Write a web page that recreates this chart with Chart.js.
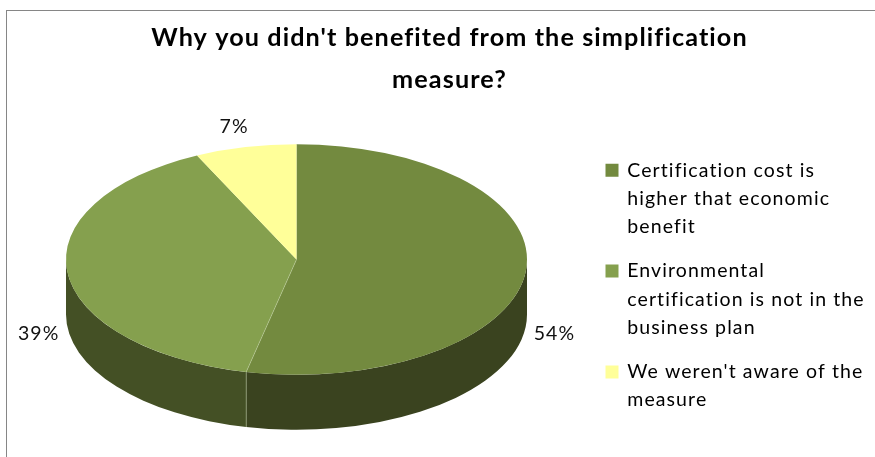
<!DOCTYPE html>
<html>
<head>
<meta charset="utf-8">
<script src="https://cdn.jsdelivr.net/npm/chart.js@4"></script>
<style>
  html, body { margin: 0; padding: 0; background: #fff; overflow: hidden; }
  #wrap { position: relative; width: 875px; height: 457px; }
  #frame { position: absolute; left: 6px; top: 10px; right: 0; bottom: 0; border-left: 1.5px solid #868686; border-top: 1.5px solid #868686; }
  canvas { position: absolute; left: 0; top: 0; }
</style>
</head>
<body>
<div id="wrap">
  <div id="frame"></div>
  <canvas id="pie" width="875" height="457"></canvas>
</div>
<script>
// values (slice angles), labels round to 54 / 39 / 7
var categories = [
  ["Certification cost is", "higher that economic", "benefit"],
  ["Environmental", "certification is not in the", "business plan"],
  ["We weren't aware of the", "measure"]
];
var shares = [53.5, 39.4, 7.1];
var titleLines = ["Why you didn't benefited from the simplification", "measure?"];

var topColors = ["#738a3f", "#85a04e", "#ffff99"];
var sideColors = ["#3a431f", "#445025", "#7f7f4c"];

var squash = 0.5;   // tilt of the pie
var depth = 55;     // height of the side wall
var fontName = "Lato, 'Open Sans', sans-serif";

var tiltPlugin = {
  id: "tilt",
  beforeDraw: function(chart) {
    chart.ctx.letterSpacing = "1.1px";
  },
  afterLayout: function(chart) {
    // pie sits on its own ellipse, legend goes to the right of it
    var a = chart.chartArea;
    a.left = 66; a.right = 527; a.top = 144; a.bottom = 375;
    a.width = 461; a.height = 231;
    chart.legend.left = 590.5;
    chart.legend.top = 144.5;
    chart.legend.bottom = 440;
  },
  beforeDatasetsDraw: function(chart) {
    var ctx = chart.ctx;
    var arcs = chart.getDatasetMeta(0).data;
    var cy = arcs[0].y;

    // side wall: only the part of each slice facing the viewer
    arcs.forEach(function(arc, i) {
      var a0 = Math.max(arc.startAngle, 0);
      var a1 = Math.min(arc.endAngle, Math.PI);
      if (a0 >= a1) return;
      var rx = arc.outerRadius, ry = rx * squash;
      ctx.fillStyle = sideColors[i];
      ctx.beginPath();
      ctx.ellipse(arc.x, cy, rx, ry, 0, a0, a1);
      ctx.ellipse(arc.x, cy + depth, rx, ry, 0, a1, a0, true);
      ctx.closePath();
      ctx.fill();
    });

    // top face is the library's own arcs, only squashed
    ctx.save();
    ctx.translate(0, cy);
    ctx.scale(1, squash);
    ctx.translate(0, -cy);
  },
  afterDatasetsDraw: function(chart) {
    var ctx = chart.ctx;
    ctx.restore();

    var arcs = chart.getDatasetMeta(0).data;
    var nudge = [[0, 0], [0, 0], [-5, -6]];
    var total = shares.reduce(function(a, b) { return a + b; }, 0);

    // thin light seams where two slices meet at the front
    ctx.save();
    ctx.strokeStyle = "rgba(200,215,170,0.45)";
    ctx.lineWidth = 1;
    var ex = arcs[0].x + arcs[0].outerRadius * Math.cos(arcs[0].endAngle);
    var ey = arcs[0].y + arcs[0].outerRadius * Math.sin(arcs[0].endAngle) * squash;
    ctx.beginPath();
    ctx.moveTo(arcs[0].x, arcs[0].y);
    ctx.lineTo(ex, ey);
    ctx.lineTo(ex, ey + depth);
    ctx.stroke();
    ctx.restore();

    // percent labels outside the rim
    ctx.save();
    ctx.font = "19.5px " + fontName;
    ctx.fillStyle = "#111";
    ctx.textAlign = "center";
    ctx.textBaseline = "middle";
    arcs.forEach(function(arc, i) {
      var mid = (arc.startAngle + arc.endAngle) / 2;
      var r = arc.outerRadius + 29;
      var lx = arc.x + r * Math.cos(mid) + nudge[i][0];
      var ly = arc.y + r * squash * Math.sin(mid) + nudge[i][1];
      if (Math.sin(mid) > -0.5) ly += depth + 5;
      ctx.fillText(Math.round(shares[i] / total * 100) + "%", lx, ly);
    });
    ctx.restore();
  }
};

new Chart(document.getElementById("pie").getContext("2d"), {
  type: "pie",
  data: {
    labels: categories,
    datasets: [{
      data: shares,
      backgroundColor: topColors,
      borderWidth: 0,
      radius: 230.5,
      clip: false
    }]
  },
  options: {
    responsive: false,
    animation: false,
    layout: { padding: { left: 24, top: 16 } },
    plugins: {
      title: {
        display: true,
        text: titleLines,
        color: "#000",
        font: { family: fontName, size: 25.2, weight: "bold", lineHeight: 1.7 },
        padding: 0
      },
      legend: {
        display: true,
        position: "right",
        align: "start",
        labels: {
          color: "#111",
          boxWidth: 11,
          boxHeight: 11,
          padding: 16,
          font: { family: fontName, size: 19.5, lineHeight: 1.45 },
          generateLabels: function() {
            return categories.map(function(c, i) {
              return { text: c, fillStyle: topColors[i], strokeStyle: topColors[i], lineWidth: 2, index: i };
            });
          }
        }
      },
      tooltip: { enabled: false }
    }
  },
  plugins: [tiltPlugin]
});
</script>
</body>
</html>
